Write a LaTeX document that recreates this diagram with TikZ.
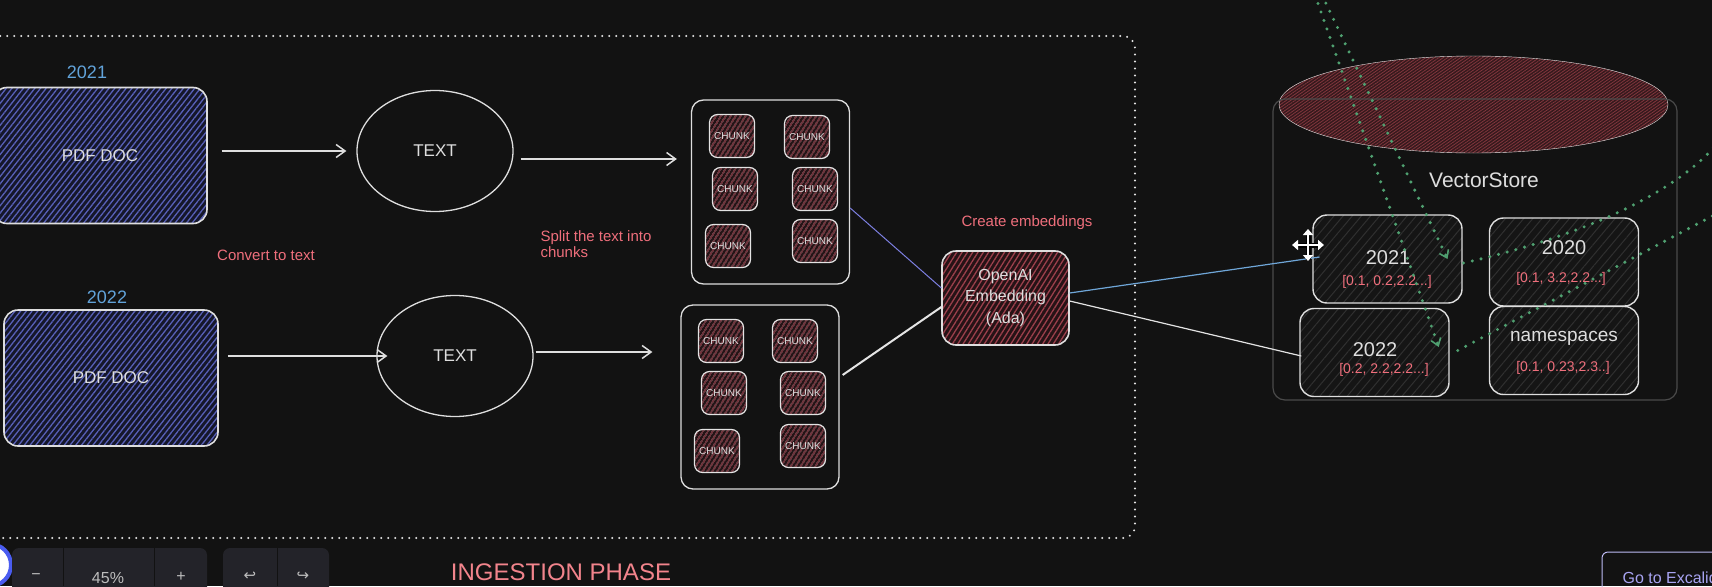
\documentclass[tikz,border=0pt]{standalone}
\usepackage{fontspec}
\setmainfont{Liberation Sans}
\newfontfamily\symfont{DejaVu Sans}
\usetikzlibrary{calc,patterns.meta,shapes.geometric,arrows.meta}

\definecolor{bgdark}{HTML}{121212}
\definecolor{inkwhite}{HTML}{DEDEDE}
\definecolor{yearblue}{HTML}{62A3DA}
\definecolor{notepink}{HTML}{EF6F7C}
\definecolor{phasepink}{HTML}{F2848C}
\definecolor{pdfhatch}{HTML}{5860B8}
\definecolor{pdffill}{HTML}{15172A}
\definecolor{chunkhatch}{HTML}{9C404C}
\definecolor{chunkfill}{HTML}{261316}
\definecolor{tophatch}{HTML}{82363E}
\definecolor{topfill}{HTML}{35191C}
\definecolor{storeline}{HTML}{4A4A4A}
\definecolor{nshatch}{HTML}{303030}
\definecolor{nsfill}{HTML}{151515}
\definecolor{dotgreen}{HTML}{4FA070}
\definecolor{linkblue}{HTML}{6FA6D8}
\definecolor{linkviolet}{HTML}{7C7FE0}
\definecolor{uigray}{HTML}{232329}
\definecolor{uitext}{HTML}{BDBDBD}
\definecolor{uiblue}{HTML}{4A5CF0}
\definecolor{uipurple}{HTML}{A8A4F2}

\tikzset{
  pdfbox/.style={draw=inkwhite, line width=1.6pt, rounded corners=14pt, minimum width=214pt, minimum height=136pt,
    preaction={fill=pdffill}, pattern={Lines[angle=52,distance=4.5pt,line width=1.3pt]}, pattern color=pdfhatch,
    text=inkwhite, font=\fontsize{17}{20}\selectfont},
  textcirc/.style={ellipse, draw=inkwhite, line width=1.3pt, minimum width=156pt, minimum height=121pt,
    text=inkwhite, font=\fontsize{17}{20}\selectfont},
  chunkframe/.style={draw=inkwhite, line width=1.3pt, rounded corners=12pt, minimum width=158pt, minimum height=184pt},
  chunk/.style={draw=inkwhite!85, line width=1.2pt, rounded corners=8pt, minimum width=45pt, minimum height=43pt, inner sep=0pt,
    preaction={fill=chunkfill}, pattern={Lines[angle=58,distance=4pt,line width=1.1pt]}, pattern color=chunkhatch,
    text=inkwhite, font=\fontsize{10}{12}\selectfont},
  embedbox/.style={draw=inkwhite, line width=1.6pt, rounded corners=14pt, minimum width=127pt, minimum height=94pt, align=center,
    preaction={fill=chunkfill}, pattern={Lines[angle=58,distance=4.5pt,line width=1.3pt]}, pattern color=chunkhatch,
    text=inkwhite, font=\fontsize{16}{21.5}\selectfont},
  nsbox/.style={draw=inkwhite, line width=1.4pt, rounded corners=14pt, minimum width=149pt, minimum height=88pt,
    preaction={fill=nsfill}, pattern={Lines[angle=50,distance=7pt,line width=1pt]}, pattern color=nshatch},
  nstitle/.style={text=inkwhite, font=\fontsize{20}{22}\selectfont},
  nsvec/.style={text=notepink, font=\fontsize{14}{16}\selectfont},
  yearlbl/.style={text=yearblue, font=\fontsize{18}{20}\selectfont},
  note/.style={text=notepink, font=\fontsize{15}{16}\selectfont, align=left},
  arr/.style={draw=inkwhite, line width=1.5pt, -{Straight Barb[length=9pt,width=13pt]}},
  framedot/.style={draw=inkwhite!85, line width=2.2pt, line cap=round, dash pattern=on 0pt off 7pt, rounded corners=12pt},
  dotlink/.style={draw=dotgreen, line width=3.4pt, line cap=round, dash pattern=on 0pt off 9pt},
  dotarr/.style={dotlink, -{Straight Barb[length=7pt,width=10pt,line width=1.6pt]}},
  uilbl/.style={text=uitext, font=\fontsize{16}{18}\selectfont}
}

\begin{document}
\begin{tikzpicture}[x=1pt,y=-1pt]
    %%%%% START %%%%%
    \useasboundingbox (0,0) rectangle (1712,586);
    \clip (0,0) rectangle (1712,586);
    \fill[bgdark] (0,0) rectangle (1712,586);

    % ingestion frame
    \draw[framedot] (-30,36) rectangle (1135,538);
    \node[text=phasepink, font=\fontsize{24}{26}\selectfont] (phaselbl) at (561,572) {INGESTION PHASE};

    % documents and text
    \node[yearlbl] (yearA) at (87,72) {2021};
    \node[pdfbox] (pdfA) at (100,155.5) {PDF DOC};
    \node[textcirc] (textA) at (435,151) {TEXT};
    \node[note] (convert) at (266,255) {Convert to text};

    \node[yearlbl] (yearB) at (107,297) {2022};
    \node[pdfbox] (pdfB) at (111,378) {PDF DOC};
    \node[textcirc] (textB) at (455,356) {TEXT};

    \draw[arr] ([xshift=14pt]pdfA.east |- textA.west) -- ([xshift=-10pt]textA.west);
    \draw[arr] ([xshift=9pt]pdfB.east |- textB.west) -- ([xshift=11pt]textB.west);

    % chunks
    \node[note, anchor=west] (split) at (537,244) {Split the text into\\chunks};

    \node[chunkframe] (chunksA) at (770.5,192) {};
    \node[chunk] (chunkA1) at (732,136) {CHUNK};
    \node[chunk] (chunkA2) at (807,137) {CHUNK};
    \node[chunk] (chunkA3) at (735,189) {CHUNK};
    \node[chunk] (chunkA4) at (815,189) {CHUNK};
    \node[chunk] (chunkA5) at (728,246) {CHUNK};
    \node[chunk] (chunkA6) at (815,241) {CHUNK};

    \node[chunkframe] (chunksB) at (760,397) {};
    \node[chunk] (chunkB1) at (721,341) {CHUNK};
    \node[chunk] (chunkB2) at (795,341) {CHUNK};
    \node[chunk] (chunkB3) at (724,393) {CHUNK};
    \node[chunk] (chunkB4) at (803,393) {CHUNK};
    \node[chunk] (chunkB5) at (717,451) {CHUNK};
    \node[chunk] (chunkB6) at (803,446) {CHUNK};

    \draw[arr] ([xshift=7pt,yshift=-8pt]textA.east) -- ([xshift=-14pt,yshift=33pt]chunksA.west);
    \draw[arr] ([xshift=2pt,yshift=4pt]textB.east) -- ([xshift=-28pt,yshift=45pt]chunksB.west);

    % embeddings
    \node[note] (create) at (1027,223) {Create embeddings};
    \node[embedbox] (embed) at (1005.5,298) {OpenAI\\Embedding\\(Ada)};

    \draw[linkviolet, line width=1pt] ([yshift=-16pt]chunksA.east) -- ([yshift=10pt]embed.west);
    \draw[inkwhite!80, line width=2pt] ([xshift=3pt,yshift=22pt]chunksB.east) -- ([yshift=-9pt]embed.west);

    % vector store
    \node[ellipse, minimum width=389pt, minimum height=97pt, preaction={fill=topfill},
      pattern={Lines[angle=35,distance=2.5pt,line width=0.8pt]}, pattern color=tophatch,
      draw=inkwhite!75] (storetop) at (1473.5,104.5) {};
    \node[draw=storeline, line width=1.2pt, rounded corners=12pt, minimum width=404pt, minimum height=301pt] (store) at (1475,249.5) {};
    \node[nstitle, font=\fontsize{21}{23}\selectfont] (storelbl) at (1484,180) {VectorStore};

    \node[nsbox] (b2021) at (1387.5,259) {};
    \node[nsbox] (b2020) at (1564,262) {};
    \node[nsbox] (b2022) at (1374.5,352.5) {};
    \node[nsbox] (bns) at (1564,350.5) {};

    \node[nstitle] (t2021) at (1388,258) {2021};
    \node[nsvec] (v2021) at (1387,282) {[0.1, 0.2,2.2...]};
    \node[nstitle] (t2020) at (1564,248) {2020};
    \node[nsvec] (v2020) at (1561,279) {[0.1, 3.2,2.2...]};
    \node[nstitle] (t2022) at (1375,350) {2022};
    \node[nsvec] (v2022) at (1384,370) {[0.2, 2.2,2.2...]};
    \node[nstitle, font=\fontsize{19}{21}\selectfont] (tns) at (1564,338) {namespaces};
    \node[nsvec] (vns) at (1563,368) {[0.1, 0.23,2.3..]};

    \draw[linkblue, line width=1.2pt] ([yshift=5pt]embed.east) -- ([xshift=7pt,yshift=2pt]b2021.west);
    \draw[inkwhite!85, line width=1.2pt] ([yshift=-3pt]embed.east) -- ([xshift=2pt,yshift=-3.5pt]b2022.west);

    % green links from outside
    \coordinate (offA) at (1322,-5);
    \coordinate (offA2) at (1315,-5);
    \coordinate (offB) at (1720,140);
    \coordinate (offC) at (1720,212);
    \draw[dotarr] (offA) -- ([xshift=-15pt]b2021.east);
    \draw[dotarr] (offA2) -- ([xshift=-11pt,yshift=5.5pt]b2022.east);
    \draw[dotlink] ([xshift=1pt,yshift=-4pt]b2021.east) .. controls (1600,232) and (1685,185) .. (offB);
    \draw[dotlink] ([xshift=8pt,yshift=2pt]b2022.east) -- (offC);

    % move cursor
    \draw[black, line width=5pt] (1293,245) -- (1323,245) (1308,230) -- (1308,260);
    \draw[white, line width=2.4pt, {Triangle[length=6pt,width=10pt]}-{Triangle[length=6pt,width=10pt]}] (1292,245) -- (1324,245);
    \draw[white, line width=2.4pt, {Triangle[length=6pt,width=10pt]}-{Triangle[length=6pt,width=10pt]}] (1308,229) -- (1308,261);

    % editor controls
    \draw[uiblue, line width=4pt, fill=white] (-10,565) circle (21);
    \fill[uigray, rounded corners=7pt] (12,548) rectangle (207,600);
    \draw[bgdark, line width=1pt] (63,548) -- (63,586) (154,548) -- (154,586);
    \node[uilbl] (zoomout) at (36,577) {−};
    \node[uilbl] (zoomval) at (108,578) {45\%};
    \node[uilbl] (zoomin) at (181,577) {+};
    \fill[uigray, rounded corners=7pt] (223,548) rectangle (329,600);
    \draw[bgdark, line width=1pt] (277,548) -- (277,586);
    \node[uilbl, font=\symfont\fontsize{15}{17}\selectfont] (undo) at (250,576) {↩};
    \node[uilbl, font=\symfont\fontsize{15}{17}\selectfont] (redo) at (303,576) {↪};
    \draw[uipurple!75, line width=1pt, rounded corners=6pt] (1602,552) rectangle (1760,610);
    \node[text=uipurple, font=\fontsize{16}{18}\selectfont, anchor=west] (gotoex) at (1619,578) {Go to Excalidraw};
    %%%%% END %%%%%
\end{tikzpicture}
\end{document}
